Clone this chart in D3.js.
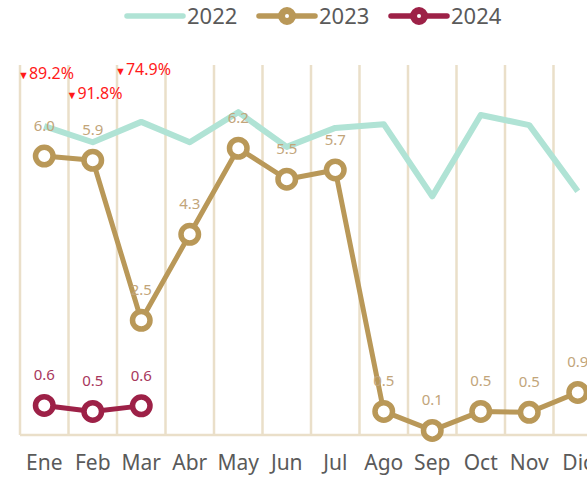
<!DOCTYPE html>
<html>
<head>
<meta charset="utf-8">
<script src="https://cdn.jsdelivr.net/npm/d3@7"></script>
<style>
  body { margin: 0; background: #fff; }
  svg { display: block; font-family: "Noto Sans", sans-serif; }
</style>
</head>
<body>
<div class="chart"></div>
<script>
// Data
var months = ["Ene", "Feb", "Mar", "Abr", "May", "Jun", "Jul", "Ago", "Sep", "Oct", "Nov", "Dic"];
var values2022 = [6.68, 6.33, 6.77, 6.33, 6.98, 6.23, 6.64, 6.72, 5.16, 6.92, 6.70, 5.27];
var values2023 = [6.03, 5.94, 2.48, 4.34, 6.2, 5.53, 5.73, 0.51, 0.1, 0.51, 0.49, 0.92];
var values2024 = [0.64, 0.51, 0.63];
var pctChange = ["89.2%", "91.8%", "74.9%"];
var seriesNames = ["2022", "2023", "2024"];

var svgWidth = 587;
var svgHeight = 479;

var colors = { "2022": "#b0e3d5", "2023": "#b99858", "2024": "#9d2147" };
var labelColors = { "2023": "#c2a57a", "2024": "#a8375c" };

var svg = d3.select(".chart")
    .append("svg")
    .attr("width", svgWidth)
    .attr("height", svgHeight);

// Scales
var xScale = d3.scaleBand()
    .domain(months)
    .range([20, 20 + 12 * 48.5])
    .padding(0);

var yScale = d3.scaleLinear()
    .domain([0, 8])
    .range([435, 65]);

var cx = function(i) { return xScale(months[i]) + xScale.bandwidth() / 2; };

// Vertical grid lines at band edges
svg.append("g").selectAll("line")
    .data(months)
    .enter()
    .append("line")
    .attr("x1", d => xScale(d))
    .attr("x2", d => xScale(d))
    .attr("y1", yScale(8))
    .attr("y2", yScale(0))
    .attr("stroke", "#eadfc9")
    .attr("stroke-width", 2.5);

// Bottom axis
var bottomAxis = d3.axisBottom(xScale).tickSize(0).tickPadding(20);
var axisG = svg.append("g")
    .attr("transform", `translate(0, ${yScale(0)})`)
    .call(bottomAxis);
axisG.select(".domain")
    .attr("d", `M20,0H${svgWidth}`)
    .attr("stroke", "#eadfc9")
    .attr("stroke-width", 2.5);
axisG.selectAll("text")
    .attr("font-family", "Noto Sans, sans-serif")
    .attr("font-size", "21px")
    .attr("fill", "#5a5a5a");

// Lines
var line = d3.line()
    .x((d, i) => cx(i))
    .y(d => yScale(d));

svg.append("path")
    .datum(values2022)
    .attr("d", line)
    .attr("fill", "none")
    .attr("stroke", colors["2022"])
    .attr("stroke-width", 6)
    .attr("stroke-linejoin", "round");

function drawMarked(values, name) {
    svg.append("path")
        .datum(values)
        .attr("d", line)
        .attr("fill", "none")
        .attr("stroke", colors[name])
        .attr("stroke-width", 5)
        .attr("stroke-linejoin", "round");

    svg.append("g").selectAll("circle")
        .data(values)
        .enter()
        .append("circle")
        .attr("cx", (d, i) => cx(i))
        .attr("cy", d => yScale(d))
        .attr("r", 8.75)
        .attr("fill", "#fff")
        .attr("stroke", colors[name])
        .attr("stroke-width", 5.5);

    svg.append("g").selectAll("text")
        .data(values)
        .enter()
        .append("text")
        .attr("x", (d, i) => cx(i))
        .attr("y", d => yScale(d) - 25)
        .attr("text-anchor", "middle")
        .attr("font-size", "15px")
        .attr("fill", labelColors[name])
        .text(d => d3.format(".1f")(d));
}

drawMarked(values2023, "2023");
drawMarked(values2024, "2024");

// Year-over-year change annotations
var annotY = [79, 99, 75];
var ann = svg.append("g").selectAll("text")
    .data(pctChange)
    .enter()
    .append("text")
    .attr("x", (d, i) => xScale(months[i]) - 2)
    .attr("y", (d, i) => annotY[i])
    .attr("fill", "#ff1a1a")
    .attr("font-size", "16px");
ann.append("tspan").attr("font-size", "11px").text("▼");
ann.append("tspan").text(d => d);

// Legend
var legendX = [127, 259, 391];
var legend = svg.append("g").selectAll("g")
    .data(seriesNames)
    .enter()
    .append("g")
    .attr("transform", (d, i) => `translate(${legendX[i]}, 16)`);

legend.append("line")
    .attr("x1", 0)
    .attr("x2", 56)
    .attr("stroke", d => colors[d])
    .attr("stroke-width", 5.5)
    .attr("stroke-linecap", "round");

legend.filter(d => d !== "2022").append("circle")
    .attr("cx", 28)
    .attr("r", 5.5)
    .attr("fill", "#fff")
    .attr("stroke", d => colors[d])
    .attr("stroke-width", 7);

legend.append("text")
    .attr("x", 60)
    .attr("y", 8)
    .attr("font-size", "22px")
    .attr("fill", "#5a5a5a")
    .text(d => d);
</script>
</body>
</html>
